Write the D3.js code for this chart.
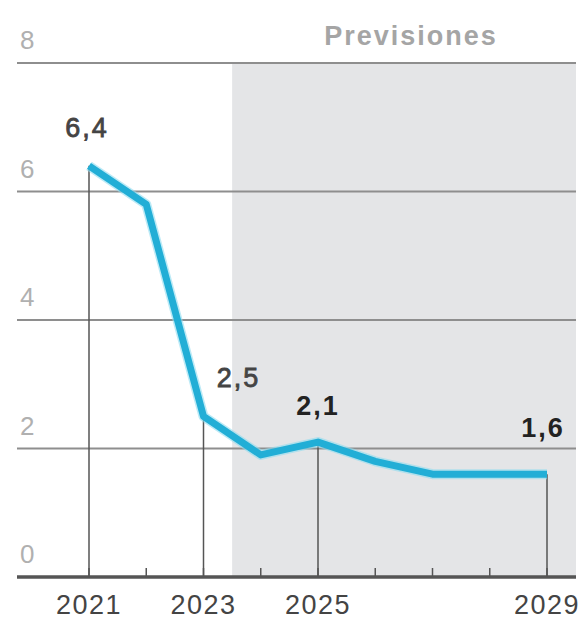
<!DOCTYPE html>
<html><head><meta charset="utf-8">
<script src="https://cdn.jsdelivr.net/npm/d3@7"></script>
<style>body{margin:0;background:#fff}svg{display:block}</style>
</head><body>
<script>
const years = [2021,2022,2023,2024,2025,2026,2027,2028,2029];
const values = [6.4,5.8,2.5,1.9,2.1,1.8,1.6,1.6,1.6];
const yTicks = [0,2,4,6,8];
const xTickLabels = [2021,2023,2025,2029];
const labelled = [
  {year:2021, text:"6,4", bold:false},
  {year:2023, text:"2,5", bold:false},
  {year:2025, text:"2,1", bold:true},
  {year:2029, text:"1,6", bold:true}
];
const forecastStart = 2023.5;
const forecastTitle = "Previsiones";

const W=585,H=620;
const FONT="Liberation Sans, Arial, sans-serif";
const svg=d3.select("body").append("svg").attr("width",W).attr("height",H);
const x=d3.scaleLinear().domain([2021,2029]).range([89,547]);
const y=d3.scaleLinear().domain([0,8]).range([577,63]);
const left=17,right=576;

// forecast shading
svg.append("rect").attr("x",x(forecastStart)).attr("y",y(8)).attr("width",right-x(forecastStart)).attr("height",y(0)-y(8)).attr("fill","#e4e5e7");
svg.append("text").attr("x",411).attr("y",45).attr("text-anchor","middle")
  .attr("font-family",FONT).attr("font-weight",700).attr("font-size",27).attr("letter-spacing",2).attr("fill","#a5a5a5").text(forecastTitle);

// gridlines
svg.selectAll(".grid").data(yTicks.filter(d=>d>0)).enter().append("line")
  .attr("x1",left).attr("x2",right).attr("y1",d=>y(d)).attr("y2",d=>y(d)).attr("stroke","#8e8e8e").attr("stroke-width",2);
// y labels
svg.selectAll(".yl").data(yTicks).enter().append("text")
  .attr("x",20).attr("y",d=>y(d)-14).attr("font-family",FONT).attr("font-size",26).attr("fill","#b0b0b0").text(d=>d);

// droplines
svg.selectAll(".drop").data(labelled).enter().append("line")
  .attr("x1",d=>x(d.year)).attr("x2",d=>x(d.year))
  .attr("y1",d=>y(values[years.indexOf(d.year)])).attr("y2",y(0))
  .attr("stroke","#555").attr("stroke-width",1.5);

// x axis
const ax=svg.append("g").attr("transform",`translate(0,${y(0)})`);
ax.append("line").attr("x1",left).attr("x2",right).attr("stroke","#555").attr("stroke-width",3.5);
ax.selectAll(".tk").data(years).enter().append("line").attr("x1",d=>x(d)).attr("x2",d=>x(d)).attr("y1",-9).attr("y2",0).attr("stroke","#555").attr("stroke-width",1.5);
ax.selectAll(".xl").data(xTickLabels).enter().append("text").attr("x",d=>x(d)).attr("y",37).attr("text-anchor","middle")
  .attr("font-family",FONT).attr("font-size",27).attr("letter-spacing",1.5).attr("fill","#444").text(d=>d);

// line
const line=d3.line().x((d,i)=>x(years[i])).y(d=>y(d));
svg.append("path").datum(values).attr("d",line).attr("fill","none").attr("stroke","#8fdcf0").attr("stroke-width",10).attr("stroke-linejoin","round").attr("opacity",0.6);
svg.append("path").datum(values).attr("d",line).attr("fill","none").attr("stroke","#22aed6").attr("stroke-width",7).attr("stroke-linejoin","round");

// value labels
const off={2021:[-2,-29],2023:[35,-29],2025:[0,-27],2029:[-4,-37]};
svg.selectAll(".vl").data(labelled).enter().append("text")
  .attr("x",d=>x(d.year)+off[d.year][0]).attr("y",d=>y(values[years.indexOf(d.year)])+off[d.year][1])
  .attr("text-anchor","middle").attr("font-family",FONT).attr("font-size",27).attr("letter-spacing",2)
  .attr("font-weight",d=>d.bold?700:400).attr("fill",d=>d.bold?"#222":"#444")
  .attr("stroke",d=>d.bold?"none":"#444").attr("stroke-width",0.8).text(d=>d.text);
</script>
</body></html>
